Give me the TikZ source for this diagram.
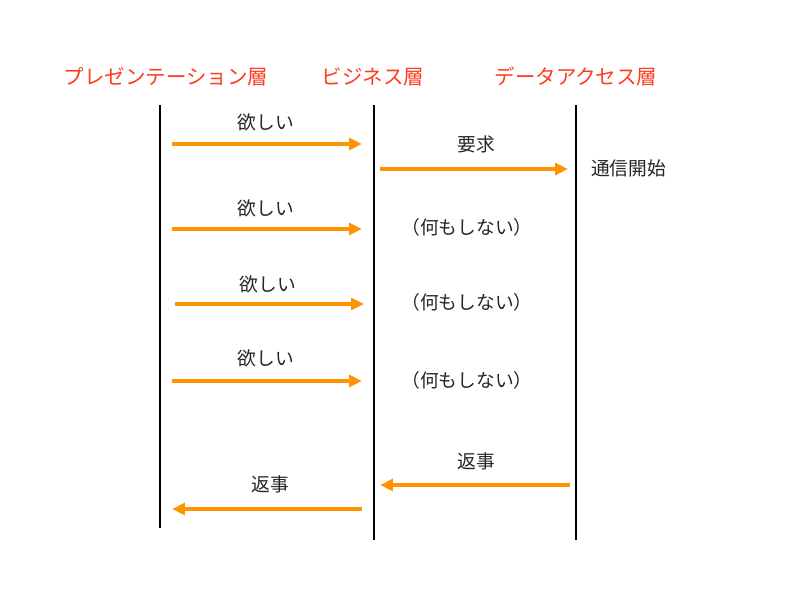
\documentclass[tikz,border=0pt]{standalone}
\usepackage{fontspec}
\setmainfont{Noto Sans CJK JP}
\usepackage{xcolor}
\usetikzlibrary{arrows.meta}
\definecolor{hdred}{HTML}{FF3B1F}
\definecolor{msgorange}{HTML}{FF9400}

\begin{document}
\begin{tikzpicture}[x=0.3mm, y=-0.3mm,
  layer/.style={text=hdred, font=\fontsize{17.5}{20}\selectfont, inner sep=0pt},
  lbl/.style={text=black!85, font=\fontsize{16}{18}\selectfont, inner sep=0pt},
  life/.style={draw=black, line width=1.8pt},
  arr/.style={-{Triangle[length=11pt,width=10pt]}, draw=msgorange, line width=2.8pt}]
\useasboundingbox (0,0) rectangle (800,600);
% ---- layer headers
\node[layer] (pres) at (166,77) {プレゼンテーション層};
\node[layer] (biz) at (373,77) {ビジネス層};
\node[layer] (dal) at (576,77) {データアクセス層};
% ---- lifelines
\coordinate (presT) at (160,105); \coordinate (presB) at (160,528);
\coordinate (bizT) at (374,105);  \coordinate (bizB) at (374,540);
\coordinate (dalT) at (576,105);  \coordinate (dalB) at (576,540);
\draw[life] (presT) -- (presB);
\draw[life] (bizT) -- (bizB);
\draw[life] (dalT) -- (dalB);
% ---- messages
\coordinate (m1s) at (172,144); \coordinate (m1e) at (362,144);
\coordinate (m2s) at (380,169); \coordinate (m2e) at (568,169);
\coordinate (m3s) at (172,229); \coordinate (m3e) at (362,229);
\coordinate (m4s) at (175,304); \coordinate (m4e) at (364,304);
\coordinate (m5s) at (172,381); \coordinate (m5e) at (362,381);
\coordinate (m6s) at (570,485); \coordinate (m6e) at (380,485);
\coordinate (m7s) at (362,509); \coordinate (m7e) at (172,509);
\draw[arr] (m1s) -- (m1e);
\draw[arr] (m2s) -- (m2e);
\draw[arr] (m3s) -- (m3e);
\draw[arr] (m4s) -- (m4e);
\draw[arr] (m5s) -- (m5e);
\draw[arr] (m6s) -- (m6e);
\draw[arr] (m7s) -- (m7e);
% ---- labels
\node[lbl] (want1) at (266,122) {欲しい};
\node[lbl] (req) at (476,144) {要求};
\node[lbl, anchor=west] (conn) at (591,168) {通信開始};
\node[lbl] (want2) at (266,208) {欲しい};
\node[lbl] (noop1) at (467,227) {（何もしない）};
\node[lbl] (want3) at (268,284) {欲しい};
\node[lbl] (noop2) at (467,302) {（何もしない）};
\node[lbl] (want4) at (266,358) {欲しい};
\node[lbl] (noop3) at (467,380) {（何もしない）};
\node[lbl] (reply1) at (476,461) {返事};
\node[lbl] (reply2) at (270,484) {返事};
\end{tikzpicture}
\end{document}
